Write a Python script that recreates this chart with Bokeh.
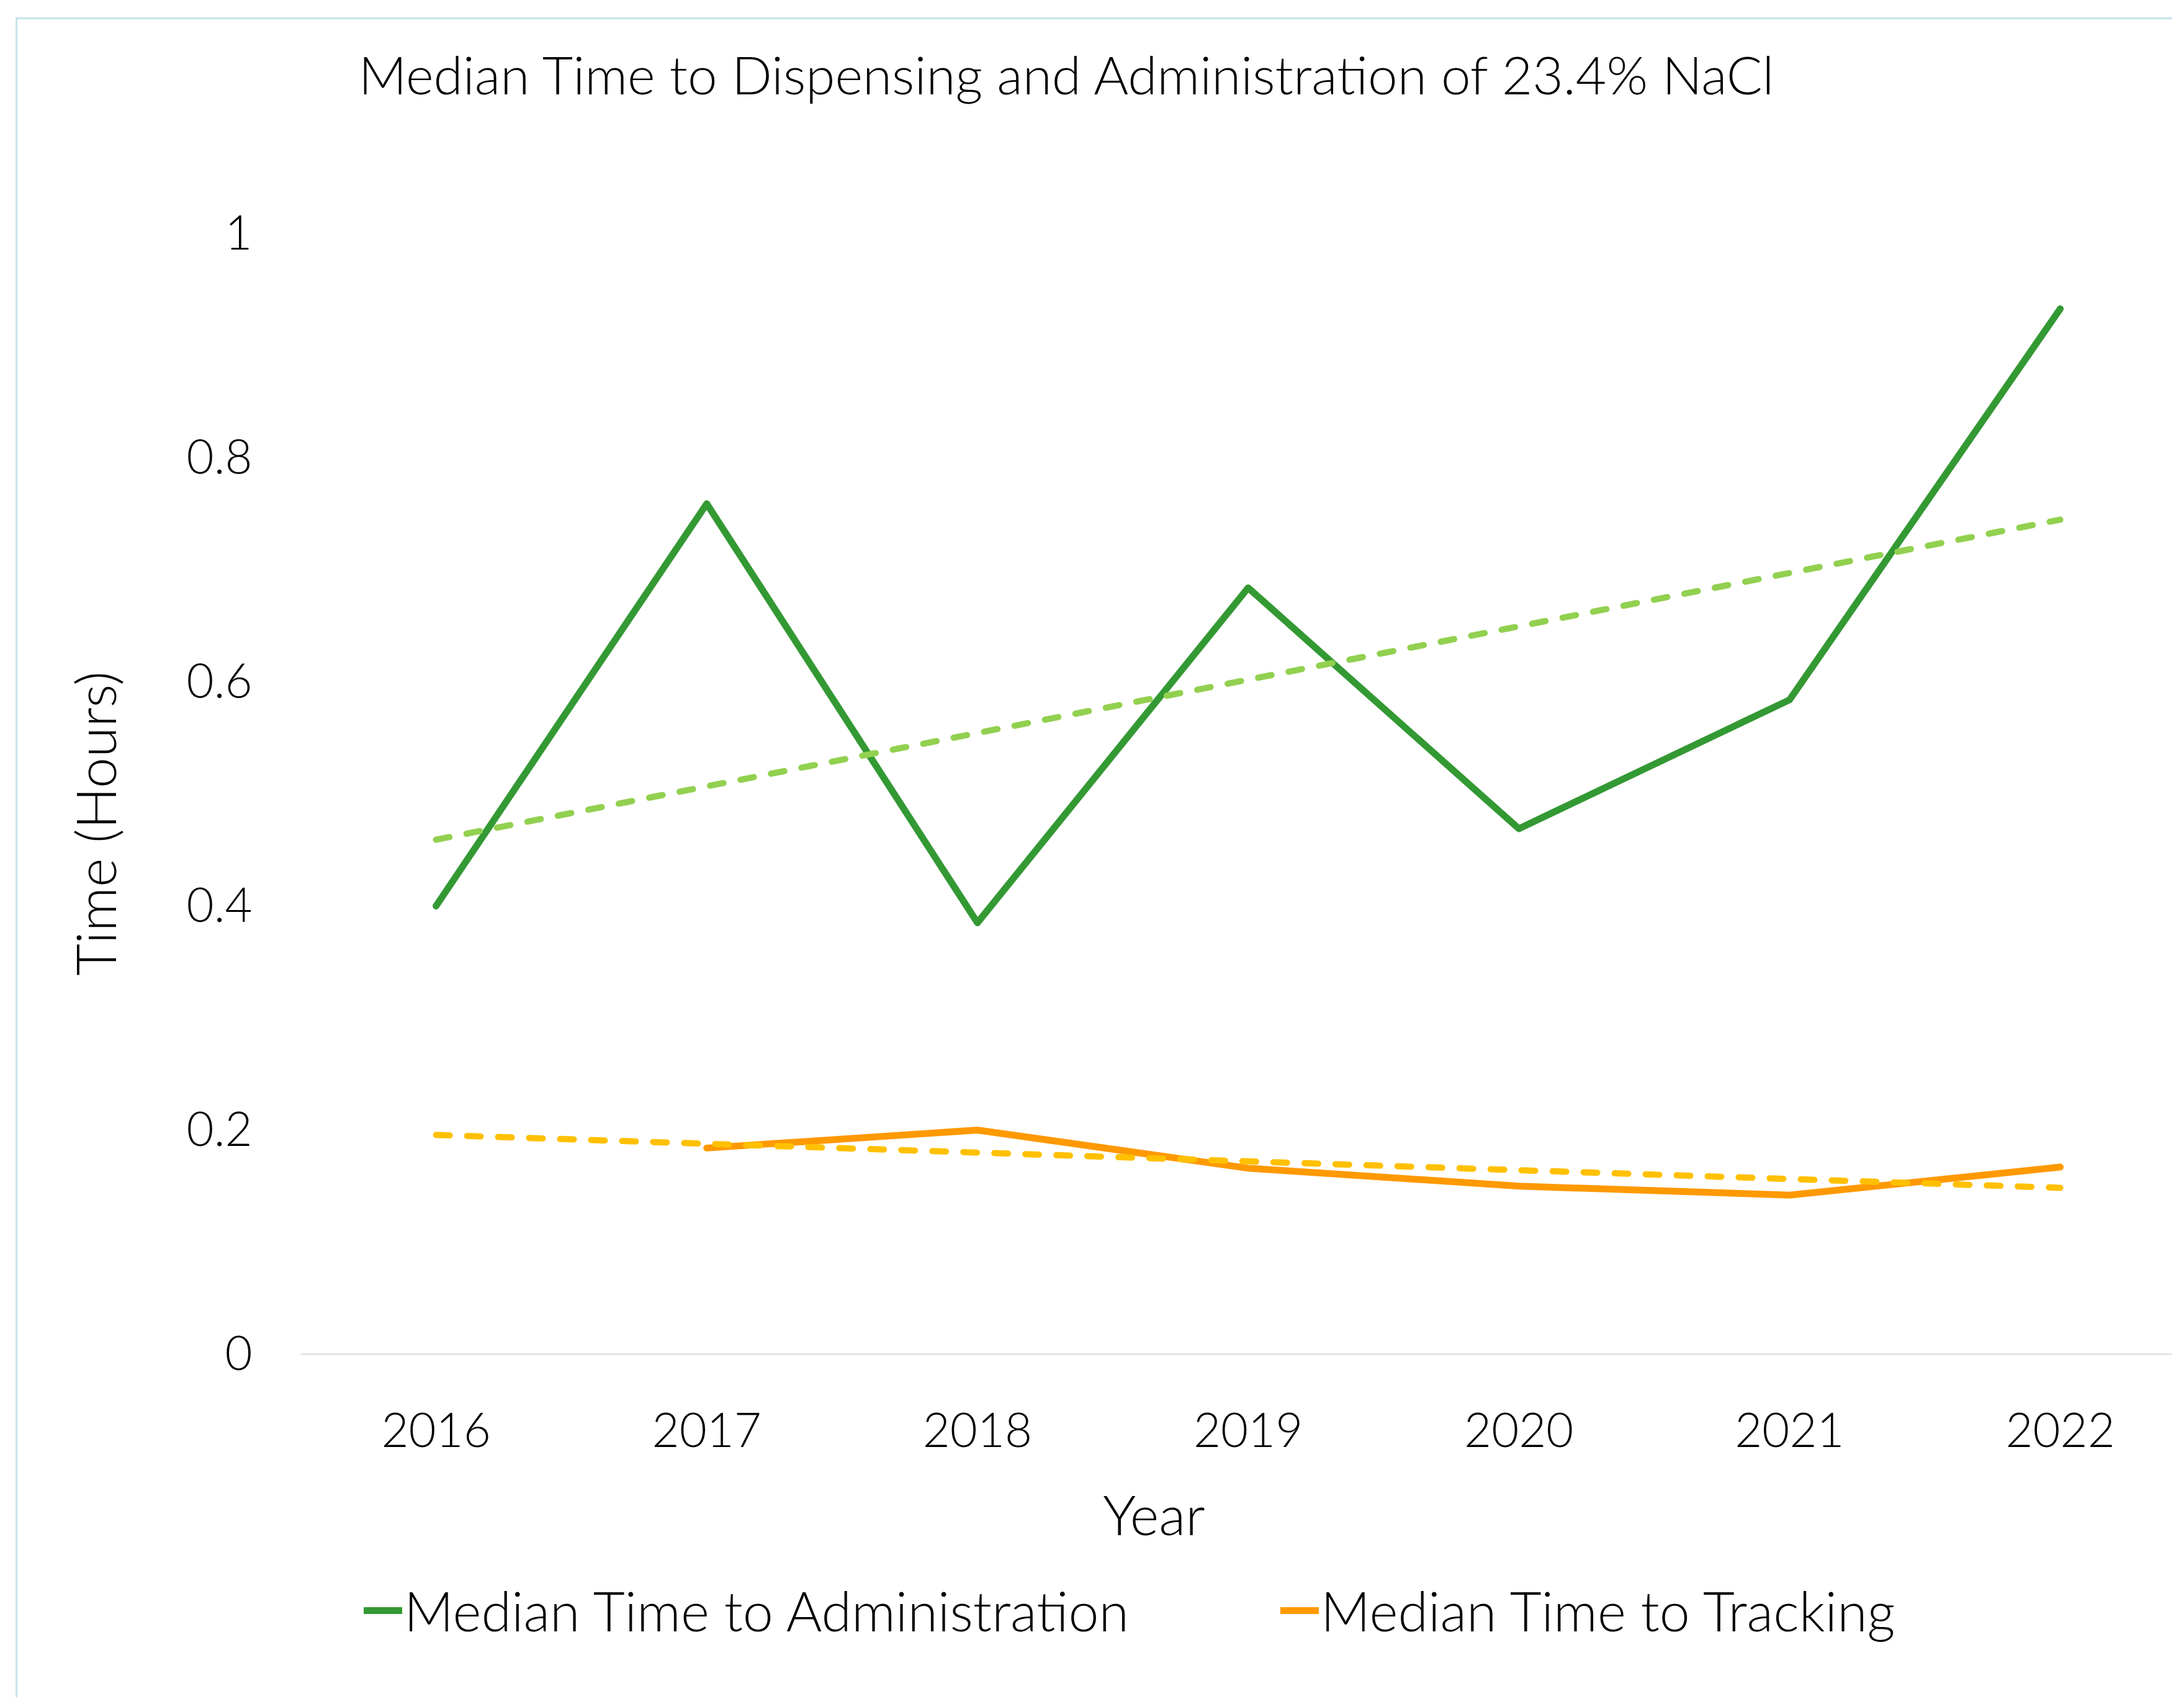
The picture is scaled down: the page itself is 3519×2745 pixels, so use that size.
import math
import numpy as np
from bokeh.plotting import figure
from bokeh.models import Range1d, Label, Legend, LegendItem
from bokeh.core.properties import value
from bokeh.embed import file_html
from bokeh.resources import INLINE

# ---------------- data ----------------
years = [2016, 2017, 2018, 2019, 2020, 2021, 2022]
admin = [0.400, 0.759, 0.385, 0.684, 0.469, 0.584, 0.933]
tracking = [float("nan"), 0.184, 0.200, 0.166, 0.150, 0.142, 0.167]
y_ticks = [0, 0.2, 0.4, 0.6, 0.8, 1.0]
y_tick_labels = ["0", "0.2", "0.4", "0.6", "0.8", "1"]
x_tick_labels = ["2016", "2017", "2018", "2019", "2020", "2021", "2022"]
title_text = "Median Time to Dispensing and Administration of 23.4% NaCl"
y_title = "Time (Hours)"
x_title = "Year"
admin_name = "Median Time to Administration"
tracking_name = "Median Time to Tracking"

# linear trend lines (Excel-style, category index as x)
def linear_trend(vals):
    idx = np.arange(1, len(vals) + 1, dtype=float)
    v = np.array(vals, dtype=float)
    ok = ~np.isnan(v)
    k, b = np.polyfit(idx[ok], v[ok], 1)
    return list(k * idx + b)

admin_trend = linear_trend(admin)
tracking_trend = linear_trend(tracking)

# ---------------- styling / layout ----------------
FONT = "Lato Light"
GREEN = "#339933"
LGREEN = "#92D050"
ORANGE = "#FF9900"
YELLOW = "#FFC000"
BORDER = "#C5E4EB"
AXIS_GREY = "#D9D9D9"

W, H = 3475, 2706               # canvas inside the light-blue chart box
AREA_LEFT = 456                 # px of the plot-area left edge (category boundary)
AREA_ZERO = 2150                # px of y = 0
PX_PER_YEAR = 436.17
PX_PER_UNIT = 1805.0

X0 = (years[0] - 0.5) - AREA_LEFT / PX_PER_YEAR
X1 = X0 + W / PX_PER_YEAR
Y1 = AREA_ZERO / PX_PER_UNIT
Y0 = Y1 - H / PX_PER_UNIT

def fx(px):
    return X0 + px / PX_PER_YEAR

def fy(py):
    return Y1 - py / PX_PER_UNIT

p = figure(width=W, height=H, output_backend="svg", toolbar_location=None,
           x_range=Range1d(X0, X1), y_range=Range1d(Y0, Y1),
           x_axis_location=None, y_axis_location=None, min_border=0)
p.styles = {"margin-left": "25px", "margin-top": "28px",
            "border-left": f"3px solid {BORDER}", "border-top": f"3px solid {BORDER}"}
p.outline_line_color = None
p.background_fill_color = "white"
p.border_fill_color = "white"
p.grid.visible = False

# category axis line at y = 0 (from plot-area edge to the right)
p.segment(x0=[years[0] - 0.5], y0=[0], x1=[X1], y1=[0],
          line_color=AXIS_GREY, line_width=2)

# tick labels
p.text(x=[years[0] - 0.5] * len(y_ticks), y=y_ticks, text=y_tick_labels,
       x_offset=-78, y_offset=-2, text_align="right", text_baseline="alphabetic",
       text_font=value(FONT), text_font_size="76px", text_color="black")
p.text(x=years, y=[0] * len(years), text=x_tick_labels,
       y_offset=122, text_align="center", text_baseline="alphabetic",
       text_font=value(FONT), text_font_size="76px", text_color="black")

# data lines
r_admin = p.line(years, admin, line_color=GREEN, line_width=11,
                 line_join="round", line_cap="round")
r_track = p.line(years, tracking, line_color=ORANGE, line_width=11,
                 line_join="round", line_cap="round")
# trend lines
p.line(years, admin_trend, line_color=LGREEN, line_width=10,
       line_dash="22 28", line_cap="round")
p.line(years, tracking_trend, line_color=YELLOW, line_width=10,
       line_dash="22 28", line_cap="round")

# titles
p.add_layout(Label(x=fx(1693), y=fy(87), text=title_text, text_align="center",
                   text_baseline="alphabetic", text_font=FONT,
                   text_font_size="85.5px", text_color="black"))
p.add_layout(Label(x=fx(124), y=fy(1295), text=y_title, angle=math.pi / 2,
                   text_align="center", text_baseline="alphabetic",
                   text_font=FONT, text_font_size="89px", text_color="black"))
p.add_layout(Label(x=fx(1831), y=fy(2407), text=x_title, text_align="center",
                   text_baseline="alphabetic", text_font=FONT,
                   text_font_size="89px", text_color="black"))

# legend
legend = Legend(items=[LegendItem(label=admin_name, renderers=[r_admin]),
                       LegendItem(label=tracking_name, renderers=[r_track])],
                location=(558, 90), orientation="horizontal",
                glyph_width=62, glyph_height=80, label_height=80, label_width=1412,
                label_standoff=3, padding=0, margin=0, spacing=0,
                border_line_alpha=0, background_fill_alpha=0,
                label_text_font=FONT, label_text_font_size="88px",
                label_text_color="black")
p.add_layout(legend)

open("out.html", "w").write(file_html(p, INLINE))
